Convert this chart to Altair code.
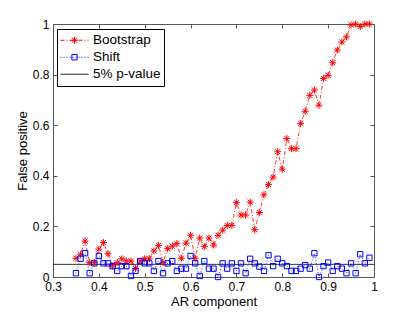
import altair as alt
import pandas as pd

# ---- data ----
ar = [0.35, 0.36, 0.37, 0.38, 0.39, 0.40, 0.41, 0.42, 0.43, 0.44,
      0.45, 0.46, 0.47, 0.48, 0.49, 0.50, 0.51, 0.52, 0.53, 0.54,
      0.55, 0.56, 0.57, 0.58, 0.59, 0.60, 0.61, 0.62, 0.63, 0.64,
      0.65, 0.66, 0.67, 0.68, 0.69, 0.70, 0.71, 0.72, 0.73, 0.74,
      0.75, 0.76, 0.77, 0.78, 0.79, 0.80, 0.81, 0.82, 0.83, 0.84,
      0.85, 0.86, 0.87, 0.88, 0.89, 0.90, 0.91, 0.92, 0.93, 0.94,
      0.95, 0.96, 0.97, 0.98, 0.99]

bootstrap = [0.074, 0.09, 0.142, 0.057, 0.057, 0.11, 0.136, 0.092, 0.043, 0.057,
             0.072, 0.063, 0.063, 0.034, 0.063, 0.072, 0.072, 0.103, 0.125, 0.057,
             0.112, 0.122, 0.132, 0.074, 0.134, 0.165, 0.074, 0.154, 0.12, 0.154,
             0.126, 0.165, 0.185, 0.204, 0.204, 0.294, 0.245, 0.245, 0.296, 0.187,
             0.255, 0.325, 0.366, 0.395, 0.495, 0.426, 0.547, 0.507, 0.507, 0.607,
             0.655, 0.718, 0.739, 0.679, 0.785, 0.797, 0.847, 0.897, 0.929, 0.949,
             0.996, 1.0, 0.99, 1.0, 1.0]

shift = [0.015, 0.072, 0.094, 0.015, 0.054, 0.083, 0.054, 0.054, 0.043, 0.024,
         0.043, 0.043, 0.004, 0.024, 0.063, 0.054, 0.054, 0.024, 0.063, 0.015,
         0.054, 0.063, 0.024, 0.033, 0.033, 0.083, 0.054, 0.004, 0.063, 0.033,
         0.033, 0.0, 0.054, 0.033, 0.054, 0.024, 0.054, 0.015, 0.072, 0.054,
         0.041, 0.024, 0.086, 0.043, 0.072, 0.054, 0.043, 0.024, 0.024, 0.033,
         0.047, 0.033, 0.094, 0.0, 0.043, 0.057, 0.024, 0.043, 0.033, 0.015,
         0.054, 0.015, 0.09, 0.054, 0.076]

pvalue_x = [0.3, 1.0]
pvalue_y = [0.05, 0.05]

series_names = ["Bootstrap", "Shift", "5% p-value"]
x_ticks = [0.3, 0.4, 0.5, 0.6, 0.7, 0.8, 0.9, 1.0]
y_ticks = [0.0, 0.2, 0.4, 0.6, 0.8, 1.0]

# ---- styling ----
colors = ["#ff0000", "#0000ff", "#000000"]
dashes = [[4, 2, 1, 2], [1, 2], [1, 0]]
marker_paths = [
    "M-0.25,0L0.25,0M0,-0.25L0,0.25M-0.18,-0.18L0.18,0.18M-0.18,0.18L0.18,-0.18",
    "M-0.19,-0.19L0.19,-0.19L0.19,0.19L-0.19,0.19Z",
    "M0,0",
]
FONT = "Liberation Sans"
FRAME = "#555555"

lines_df = pd.concat([
    pd.DataFrame({"x": ar, "y": bootstrap, "series": "Bootstrap"}),
    pd.DataFrame({"x": ar, "y": shift, "series": "Shift"}),
    pd.DataFrame({"x": pvalue_x, "y": pvalue_y, "series": "5% p-value"}),
], ignore_index=True)

points_df = pd.concat([
    pd.DataFrame({"x": ar, "y": bootstrap, "marker": "Bootstrap"}),
    pd.DataFrame({"x": ar, "y": shift, "marker": "Shift"}),
], ignore_index=True)

xscale = alt.Scale(domain=[0.3, 1.0], nice=False, zero=False)
yscale = alt.Scale(domain=[0.0, 1.0], nice=False, zero=False)

common_axis = dict(domain=False, grid=False, tickSize=4, offset=-4,
                   tickColor=FRAME, tickWidth=1,
                   labelFlush=False, labelOverlap=False,
                   labelFont=FONT, labelFontSize=12, labelColor="black",
                   titleFont=FONT, titleFontSize=13, titleFontWeight="normal",
                   titleColor="black", format="~g")

legend_common = dict(orient="none", legendX=4, legendY=5, title=None,
                     padding=3, rowPadding=0, clipHeight=16.5,
                     symbolSize=784, symbolStrokeWidth=1, symbolOffset=0,
                     labelOffset=4, labelFont=FONT, labelFontSize=13.5,
                     labelColor="black", labelLimit=200)

legend_a = alt.Legend(strokeColor="black", **legend_common)
legend_b = alt.Legend(labelOpacity=0, **legend_common)

lines = alt.Chart(lines_df).mark_line(strokeWidth=0.8).encode(
    x=alt.X("x:Q", scale=xscale,
            axis=alt.Axis(orient="bottom", values=x_ticks, title="AR component",
                          labelPadding=4, titlePadding=3, **common_axis)),
    y=alt.Y("y:Q", scale=yscale,
            axis=alt.Axis(orient="left", values=y_ticks, title="False positive",
                          labelPadding=4, titlePadding=3, **common_axis)),
    color=alt.Color("series:N", scale=alt.Scale(domain=series_names, range=colors),
                    legend=legend_a),
    strokeDash=alt.StrokeDash("series:N", scale=alt.Scale(domain=series_names, range=dashes),
                              legend=legend_a),
    detail="series:N",
)

points = alt.Chart(points_df).mark_point(filled=False, size=784, strokeWidth=1, opacity=1).encode(
    x=alt.X("x:Q", scale=xscale,
            axis=alt.Axis(orient="top", values=x_ticks, labels=False, title=None,
                          **common_axis)),
    y=alt.Y("y:Q", scale=yscale,
            axis=alt.Axis(orient="right", values=y_ticks, labels=False, title=None,
                          **common_axis)),
    color=alt.Color("marker:N", scale=alt.Scale(domain=series_names, range=colors),
                    legend=legend_b),
    shape=alt.Shape("marker:N", scale=alt.Scale(domain=series_names, range=marker_paths),
                    legend=legend_b),
)

chart = alt.layer(lines, points).resolve_scale(
    color="independent", shape="independent", strokeDash="independent"
).resolve_axis(
    x="independent", y="independent"
).properties(
    width=321, height=253,
    padding={"left": 8, "top": 10, "right": 5, "bottom": 5},
    background="white",
).configure_view(
    stroke=FRAME, strokeWidth=1
)

chart.save("out.html", embed_options={"renderer": "svg", "actions": False})
